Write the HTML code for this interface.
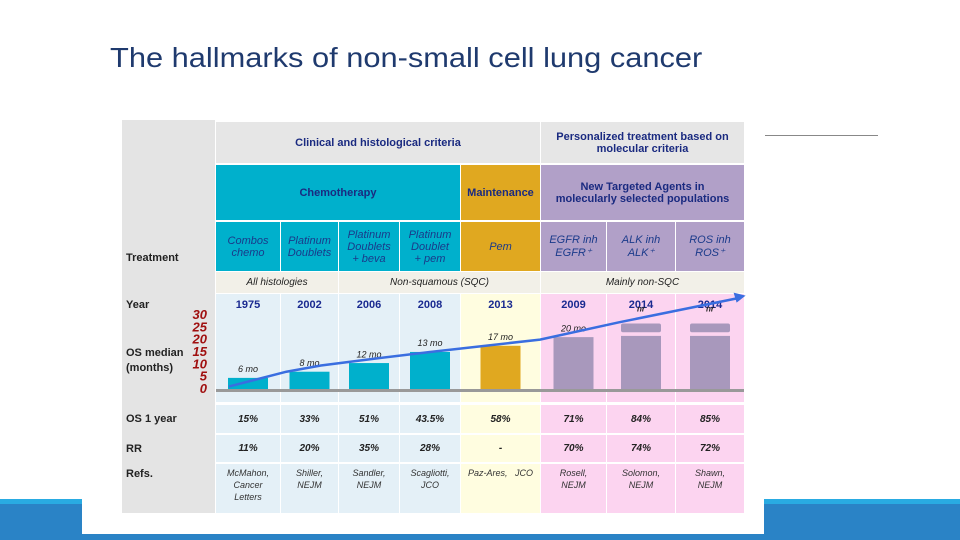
<!DOCTYPE html>
<html><head><meta charset="utf-8"><style>
body{margin:0;width:960px;height:540px;position:relative;overflow:hidden;background:#fff;font-family:"Liberation Sans",sans-serif}
.a{position:absolute;box-sizing:border-box}
.c{display:flex;align-items:center;justify-content:center;text-align:center}
.hd{color:#1a2a80;font-weight:bold;font-size:11px}
.it{font-style:italic;font-size:11px;color:#1a3a8a}
.lb{font-weight:bold;font-size:11px;color:#222;justify-content:flex-start;padding-left:4px}
.v{font-style:italic;font-weight:bold;font-size:10px;color:#222}
.r{font-style:italic;font-size:9px;color:#333;line-height:12px;align-items:flex-start;padding-top:3px}
.yr{font-weight:bold;font-size:11px;color:#1a2a90}
</style></head><body>
<div class="a" style="left:110px;top:42px;font-size:28px;color:#1f3a6e;white-space:nowrap;transform:scaleX(1.1);transform-origin:0 0">The hallmarks of non-small cell lung cancer</div>
<div class="a" style="left:765px;top:135px;width:113px;height:1px;background:#888"></div>
<div class="a" style="left:0;top:499px;width:960px;height:41px;background:#2a83c6;border-top:5px solid #29abe2"></div>
<div class="a" style="left:82px;top:110px;width:682px;height:424px;background:#fff"></div>

<div class="a" style="left:122px;top:120px;width:93px;height:393px;background:#e4e4e4"></div>
<div class="a c hd" style="left:216px;top:122px;width:324px;height:41px;background:#e6e6e6">Clinical and histological criteria</div>
<div class="a c hd" style="left:541px;top:122px;width:203px;height:41px;background:#e6e6e6">Personalized treatment based on<br>molecular criteria</div>
<div class="a c hd" style="left:216px;top:165px;width:244px;height:55px;background:#00b0cc">Chemotherapy</div>
<div class="a c hd" style="left:461px;top:165px;width:79px;height:55px;background:#e0a820">Maintenance</div>
<div class="a c hd" style="left:541px;top:165px;width:203px;height:55px;background:#b1a0c8">New Targeted Agents in<br>molecularly selected populations</div>

<div class="a c lb" style="left:122px;top:245px;width:93px;height:26px">Treatment</div>
<div class="a c lb" style="left:122px;top:294px;width:93px;height:22px">Year</div>
<div class="a lb" style="left:122px;top:346px;width:70px;line-height:15px;padding-left:4px">OS median<br>(months)</div>
<div class="a c lb" style="left:122px;top:405px;width:93px;height:28px">OS 1 year</div>
<div class="a c lb" style="left:122px;top:435px;width:93px;height:27px">RR</div>
<div class="a c lb" style="left:122px;top:464px;width:93px;height:20px">Refs.</div>

<div class="a c it" style="left:216px;top:272px;width:122px;height:21px;background:#f2f0e8;color:#222;font-size:10px">All histologies</div>
<div class="a c it" style="left:339px;top:272px;width:201px;height:21px;background:#f2f0e8;color:#222;font-size:10px">Non-squamous (SQC)</div>
<div class="a c it" style="left:541px;top:272px;width:203px;height:21px;background:#f2f0e8;color:#222;font-size:10px">Mainly non-SQC</div>

<div id="cols"></div>
<svg class="a" id="chart" style="left:0;top:0" width="960" height="540"></svg>
<script>
const cols=[[216,64],[281,57],[339,60],[400,60],[461,79],[541,65],[607,68],[676,68]];
const treatments=["Combos<br>chemo","Platinum<br>Doublets","Platinum<br>Doublets<br>+ beva","Platinum<br>Doublet<br>+ pem","Pem","EGFR inh<br>EGFR⁺","ALK inh<br>ALK⁺","ROS inh<br>ROS⁺"];
const years=["1975","2002","2006","2008","2013","2009","2014","2014"];
const osLabels=["6 mo","8 mo","12 mo","13 mo","17 mo","20 mo","nr","nr"];
const osValues=[4.5,7,10.5,15,17.5,21,21.5,21.5];
const capValues=[0,0,0,0,0,0,26.5,26.5];
const os1=["15%","33%","51%","43.5%","58%","71%","84%","85%"];
const rr=["11%","20%","35%","28%","-","70%","74%","72%"];
const refs=["McMahon,<br>Cancer<br>Letters","Shiller,<br>NEJM","Sandler,<br>NEJM","Scagliotti,<br>JCO","Paz-Ares,&nbsp;&nbsp;&nbsp;JCO","Rosell,<br>NEJM","Solomon,<br>NEJM","Shawn,<br>NEJM"];
const yTicks=[0,5,10,15,20,25,30];
const trendX=[-0.3,0.6,1.2,2,3,4.5,5.7,7.45];
const trendY=[1,7,9.5,12,15,20,27,37];
const kind=i=>i<4?0:i==4?1:2;
const bgLight=["#e4f0f7","#fffde0","#fcd4f0"],bgTr=["#00b0cc","#e0a820","#b1a0c8"],barC=["#00b0cc","#e0a820","#a898bc"];
const base=389,sc=2.47;
const yS=v=>base-v*sc;
const xS=v=>{const i=Math.max(0,Math.min(7,Math.floor(v)));const f=v-i;return cols[i][0]+cols[i][1]/2+f*cols[i][1];};
const host=document.getElementById('cols');
function cell(x,y,w,h,bg,cls,html,name){const d=document.createElement('div');d.className='a c '+cls;d.style.cssText=`left:${x}px;top:${y}px;width:${w}px;height:${h}px;background:${bg}`;d.innerHTML=html;


host.appendChild(d);}
cols.forEach(([x,w],i)=>{const k=kind(i);
cell(x,222,w,49,bgTr[k],'it',treatments[i],'treatment-'+i);
cell(x,294,w,108,bgLight[k],'yr','','col-bg-'+i);
cell(x,294,w,22,'transparent','yr',years[i],'year-'+i);
cell(x,405,w,28,bgLight[k],'v',os1[i],'os1-'+i);
cell(x,435,w,27,bgLight[k],'v',rr[i],'rr-'+i);
cell(x,464,w,49,bgLight[k],'r',refs[i],'ref-'+i);});
const svg=document.getElementById('chart'),NS='http://www.w3.org/2000/svg';
function el(t,a,txt){const e=document.createElementNS(NS,t);for(const k in a)e.setAttribute(k,a[k]);if(txt!=null)e.textContent=txt;svg.appendChild(e);return e;}
yTicks.forEach(t=>{const e=el('text',{x:207,y:yS(t)+4,'text-anchor':'end','font-size':13,'font-weight':'bold','font-style':'italic',fill:'#a01010','font-family':'Liberation Sans'},t);

});
cols.forEach(([x,w],i)=>{const bw=40,bx=x+(w-bw)/2;
const b=el('rect',{x:bx,y:yS(osValues[i]),width:bw,height:osValues[i]*sc,fill:barC[kind(i)]});


if(capValues[i]){const c=el('rect',{x:bx,y:yS(capValues[i]),width:bw,height:(capValues[i]-osValues[i]-1.5)*sc,fill:'#a898bc',rx:2});

}
const lblV=capValues[i]?capValues[i]+2.5:osValues[i]+1.5;
const l=el('text',{x:x+w/2,y:yS(lblV)+(capValues[i]?-6:-2),'text-anchor':'middle','font-size':capValues[i]?8:9,'font-style':'italic','font-weight':capValues[i]?'bold':'normal',fill:'#222','font-family':'Liberation Sans'},osLabels[i]);

});
const ax=el('rect',{x:216,y:base,width:528,height:3,fill:'#999'});


const pts=trendX.map((v,i)=>[xS(v),yS(trendY[i])]);
const tl=el('polyline',{points:pts.map(p=>p.join(',')).join(' '),fill:'none',stroke:'#3a6ee0','stroke-width':2.5});


const [ex,ey]=pts[pts.length-1];
const ar=el('polygon',{points:`${ex+5},${ey-2} ${ex-7},${ey-5} ${ex-4},${ey+5}`,fill:'#3a6ee0'});


</script>
</body></html>
